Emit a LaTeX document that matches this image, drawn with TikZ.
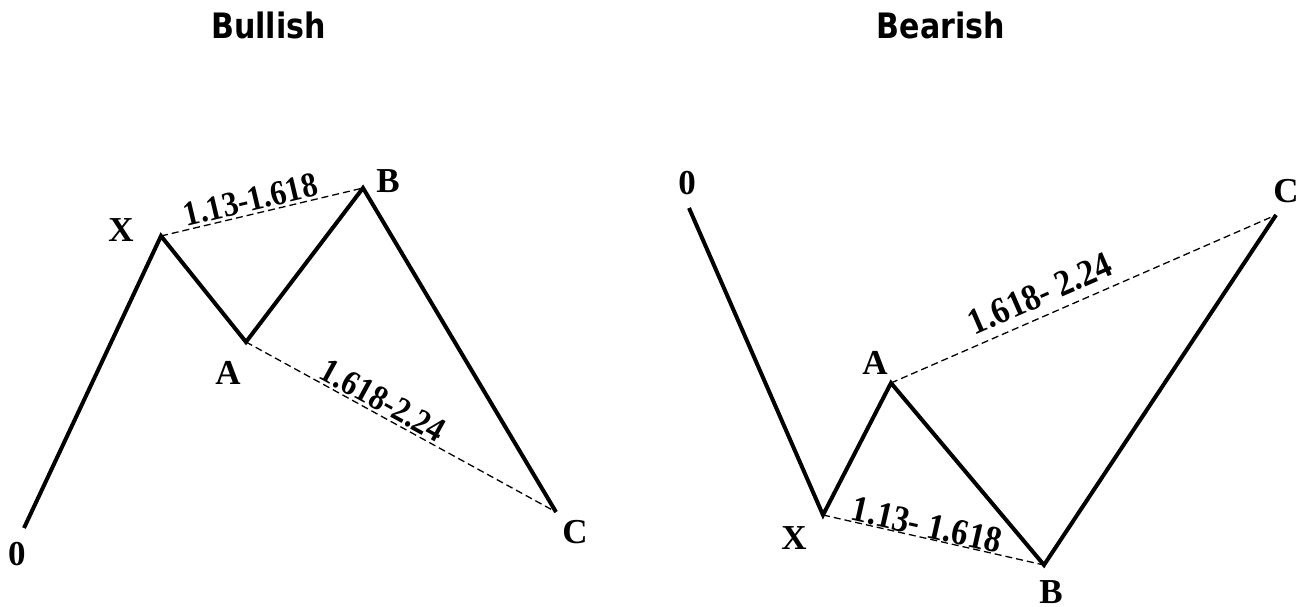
\documentclass[tikz,border=0pt]{standalone}
\usepackage{fontspec}
\setmainfont{Liberation Serif}
\newfontfamily\titlefont[FakeStretch=0.86]{DejaVu Sans}
\newfontfamily\condfont[FakeStretch=0.9]{Liberation Serif}
\begin{document}
\begin{tikzpicture}[x=1pt,y=-1pt,
  wave/.style={line width=4pt, line join=miter, line cap=butt},
  ratio/.style={line width=1.3pt, dash pattern=on 7pt off 4pt},
  pt/.style={font=\bfseries\fontsize{35}{35}\selectfont, anchor=base, inner sep=0pt},
  ttl/.style={font=\titlefont\bfseries\fontsize{35}{35}\selectfont, anchor=base, inner sep=0pt},
  rtxt/.style={font=\condfont\bfseries\fontsize{35}{35}\selectfont, sloped, anchor=south, inner sep=2pt},
  rtxtb/.style={font=\condfont\bfseries\fontsize{37}{37}\selectfont, sloped, anchor=south}]
\useasboundingbox (0,0) rectangle (1304,607);
% titles
\node[ttl] (tbull) at (268.5,39) {Bullish};
\node[ttl] (tbear) at (941,39) {Bearish};
% bullish points
\coordinate (L0) at (24,528);
\coordinate (LX) at (161,236);
\coordinate (LA) at (246,342);
\coordinate (LB) at (363,188);
\coordinate (LC) at (556,512);
\draw[wave] (L0) -- (LX) -- (LA) -- (LB) -- (LC);
\draw[ratio] (LX) -- node[rtxt, pos=0.46] (lxb) {1.13-1.618} (LB);
\draw[ratio] (LA) -- node[rtxt, pos=0.42] (lac) {1.618-2.24} (LC);
\node[pt] (l0) at (17,565) {0};
\node[pt] (lx) at (121,241) {X};
\node[pt] (la) at (228,384) {A};
\node[pt] (lb) at (388,192) {B};
\node[pt] (lc) at (575,543) {C};
% bearish points
\coordinate (R0) at (689,208);
\coordinate (RX) at (823,515);
\coordinate (RA) at (891,383);
\coordinate (RB) at (1044,565);
\coordinate (RC) at (1276,215);
\draw[wave] (R0) -- (RX) -- (RA) -- (RB) -- (RC);
\draw[ratio] (RA) -- node[rtxtb, pos=0.41, inner sep=9pt] (rac) {1.618- 2.24} (RC);
\draw[ratio] (RX) -- node[rtxtb, pos=0.457, inner sep=0pt] (rxb) {1.13- 1.618} (RB);
\node[pt] (r0) at (687,194) {0};
\node[pt] (rx) at (794,549) {X};
\node[pt] (ra) at (875,374) {A};
\node[pt] (rb) at (1051,603) {B};
\node[pt] (rc) at (1286,202) {C};
\end{tikzpicture}
\end{document}
